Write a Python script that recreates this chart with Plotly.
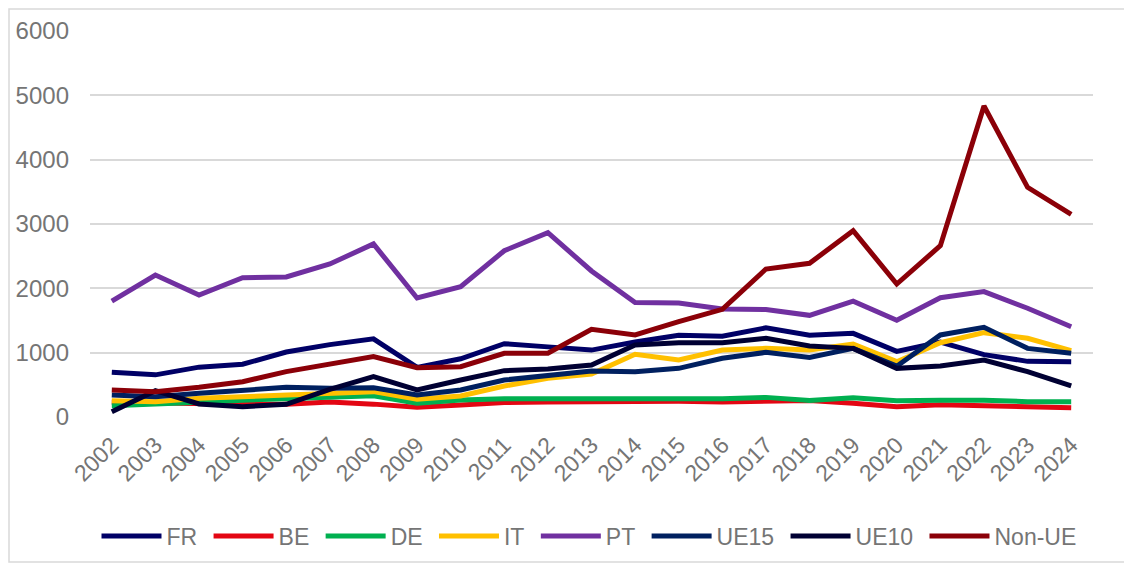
import plotly.graph_objects as go

years = [str(y) for y in range(2002, 2025)]

FR = [695, 655, 775, 820, 1010, 1125, 1215, 770, 905, 1140, 1090, 1040, 1165, 1270, 1255, 1385, 1270, 1300, 1020, 1165, 970, 865, 860]
BE = [230, 215, 215, 200, 200, 235, 200, 150, 185, 225, 235, 240, 245, 245, 235, 238, 255, 213, 160, 190, 170, 148, 143]
DE = [176, 197, 228, 262, 288, 315, 330, 213, 264, 285, 285, 285, 285, 285, 285, 305, 255, 300, 254, 262, 262, 238, 238]
IT = [254, 238, 290, 316, 342, 378, 394, 275, 326, 482, 601, 668, 974, 886, 1041, 1067, 1041, 1135, 860, 1155, 1311, 1223, 1031]
PT = [1800, 2207, 1896, 2165, 2176, 2378, 2690, 1850, 2025, 2585, 2865, 2270, 1780, 1772, 1680, 1670, 1580, 1800, 1505, 1855, 1950, 1690, 1404]
UE15 = [342, 316, 368, 420, 461, 446, 455, 342, 420, 575, 653, 715, 705, 756, 912, 1005, 927, 1067, 790, 1275, 1394, 1067, 990]
UE10 = [83, 409, 202, 160, 197, 430, 627, 420, 575, 720, 746, 808, 1119, 1155, 1155, 1223, 1104, 1067, 756, 793, 886, 705, 482]
NonUE = [420, 394, 461, 549, 705, 824, 938, 767, 782, 990, 990, 1363, 1275, 1482, 1674, 2300, 2389, 2896, 2067, 2663, 4834, 3570, 3151]

names = ["FR", "BE", "DE", "IT", "PT", "UE15", "UE10", "Non-UE"]
values = [FR, BE, DE, IT, PT, UE15, UE10, NonUE]
colors = ["#000066", "#E30613", "#00B050", "#FFC000", "#7030A0", "#002060", "#000033", "#8B0008"]

fig = go.Figure()
for i, (name, vals, col) in enumerate(zip(names, values, colors)):
    label = name if i == len(names) - 1 else name + "\u00a0"
    fig.add_trace(go.Scatter(x=years, y=vals, name=label, mode="lines",
                             line=dict(color=col, width=5)))

# page body adds an 8px offset; layout coordinates below are in figure space
W, H = 1132, 564
ml, mr, mt, mb = 82, 47, 23, 155
pw, ph = W - ml - mr, H - mt - mb

def px(x):
    return (x - ml) / pw

def py(y):
    return (H - mb - y) / ph

gray = "#757575"
font_fam = "Liberation Sans, Arial, sans-serif"

fig.update_layout(
    width=W, height=H,
    margin=dict(l=ml, r=mr, t=mt, b=mb, autoexpand=False),
    paper_bgcolor="white", plot_bgcolor="white",
    font=dict(family=font_fam, color=gray, size=23),
    showlegend=True,
    legend=dict(orientation="h", x=px(581), xanchor="center", y=py(528), yanchor="middle",
                font=dict(size=23, color=gray), itemwidth=60, tracegroupgap=0),
    xaxis=dict(type="category", range=[-0.5, 22.5], tickangle=-45,
               tickfont=dict(size=23, color=gray), showgrid=False,
               showline=False, zeroline=False, ticks="", ticklabelstandoff=9),
    yaxis=dict(range=[0, 6000], dtick=1000, tickfont=dict(size=24, color=gray),
               gridcolor="#D9D9D9", gridwidth=1.5, zeroline=False, showline=False,
               ticks="", ticklabelstandoff=20),
    shapes=[dict(type="rect", xref="paper", yref="paper",
                 x0=px(1), x1=px(1118), y0=py(554), y1=py(1),
                 line=dict(color="#D9D9D9", width=1.5), layer="below")],
)

fig.write_html("out.html")
